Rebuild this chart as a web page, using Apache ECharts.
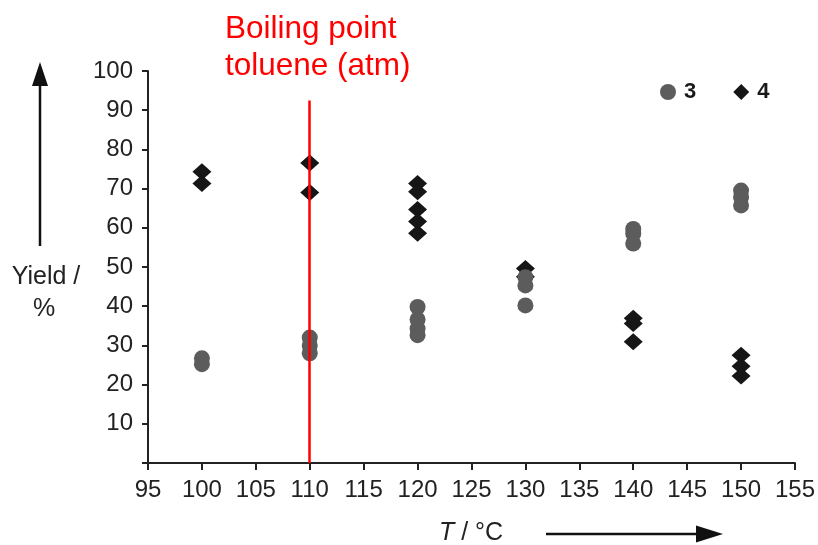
<!DOCTYPE html>
<html>
<head>
<meta charset="utf-8">
<script src="https://cdn.jsdelivr.net/npm/echarts@6/dist/echarts.min.js"></script>
<style>
html,body{margin:0;padding:0;background:#fff;}
#chart{width:818px;height:545px;}
</style>
</head>
<body>
<div id="chart"></div>
<script>
// Data
const temps3  = [100, 100, 110, 110, 110, 120, 120, 120, 120, 130, 130, 130, 140, 140, 140, 150, 150, 150];
const yields3 = [26.7, 25.2, 32.0, 30.0, 28.0, 39.8, 36.6, 34.3, 32.6, 47.4, 45.3, 40.2, 59.7, 58.5, 56.0, 69.5, 67.8, 65.7];
const temps4  = [100, 100, 110, 110, 120, 120, 120, 120, 120, 130, 130, 140, 140, 140, 150, 150, 150];
const yields4 = [74.3, 71.3, 76.5, 69.0, 71.3, 69.2, 64.7, 61.6, 58.6, 49.6, 47.5, 36.9, 35.6, 30.9, 27.5, 24.7, 22.2];
const seriesNames = ['3', '4'];
const boilingPoint = 110;
const boilingLineTop = 92.5;
const xTicks = {min: 95, max: 155, interval: 5};
const yTicks = {min: 0, max: 100, interval: 10};

const font = 'Liberation Sans, Arial, Helvetica, sans-serif';
const chart = echarts.init(document.getElementById('chart'), null, {renderer: 'canvas'});

const option = {
  backgroundColor: '#fff',
  animation: false,
  textStyle: {fontFamily: font},
  grid: {left: 148, right: 20, top: 71, bottom: 82, containLabel: false},
  legend: {
    left: 655, top: 76,
    itemWidth: 16, itemHeight: 16, itemGap: 37,
    data: [{name: seriesNames[0], icon: 'circle'}, {name: seriesNames[1], icon: 'diamond'}],
    textStyle: {fontSize: 22, fontWeight: 'bold', color: '#1a1a1a', fontFamily: font, padding: [0, 0, 0, 3]}
  },
  xAxis: {
    type: 'value', min: xTicks.min, max: xTicks.max, interval: xTicks.interval,
    splitLine: {show: false},
    axisLine: {show: true, onZero: false, lineStyle: {color: '#222', width: 2}},
    axisTick: {show: true, length: 7, lineStyle: {color: '#222', width: 2}},
    axisLabel: {fontSize: 24, color: '#222', margin: 15, fontFamily: font}
  },
  yAxis: {
    type: 'value', min: yTicks.min, max: yTicks.max, interval: yTicks.interval,
    splitLine: {show: false},
    axisLine: {show: true, onZero: false, lineStyle: {color: '#222', width: 2}},
    axisTick: {show: true, length: 6, lineStyle: {color: '#222', width: 2}},
    axisLabel: {fontSize: 24, color: '#222', margin: 15, fontFamily: font,
      formatter: v => v === 0 ? '' : String(v)}
  },
  graphic: [
    {type: 'text', style: {text: 'Boiling point\ntoluene (atm)', x: 225, y: 11, textAlign: 'left', fill: '#ff0000', font: '31.5px ' + font, lineHeight: 37}},
    {type: 'text', style: {text: 'Yield /', x: 46, y: 265, textAlign: 'center', fill: '#222', font: '25px ' + font}},
    {type: 'text', style: {text: '%', x: 44, y: 297, textAlign: 'center', fill: '#222', font: '25px ' + font}},
    {type: 'line', shape: {x1: 40, y1: 246, x2: 40, y2: 80}, style: {stroke: '#111', lineWidth: 2.5}},
    {type: 'polygon', shape: {points: [[40, 62], [32, 86], [48, 86]]}, style: {fill: '#111'}},
    {type: 'text', style: {rich: {i: {fontStyle: 'italic', fontSize: 25, fontFamily: font, fill: '#222'}, n: {fontSize: 25, fontFamily: font, fill: '#222'}}, text: '{i|T}{n| / °C}', x: 439, y: 521}},
    {type: 'line', shape: {x1: 546, y1: 534, x2: 700, y2: 534}, style: {stroke: '#111', lineWidth: 2.5}},
    {type: 'polygon', shape: {points: [[723, 534], [696, 525.5], [696, 542.5]]}, style: {fill: '#111'}}
  ],
  series: [
    {
      name: seriesNames[0], type: 'scatter', z: 3,
      symbol: 'circle', symbolSize: 16,
      itemStyle: {color: '#5c5c5c', opacity: 1},
      data: temps3.map((t, i) => [t, yields3[i]])
    },
    {
      name: seriesNames[1], type: 'scatter', z: 2,
      symbol: 'diamond', symbolSize: [19, 17],
      itemStyle: {color: '#161616', opacity: 1},
      data: temps4.map((t, i) => [t, yields4[i]])
    },
    {
      type: 'scatter', z: 5, data: [], silent: true,
      markLine: {
        silent: true, symbol: ['none', 'none'], animation: false,
        label: {show: false},
        lineStyle: {color: '#ff0000', width: 2.5, type: 'solid'},
        data: [[{coord: [boilingPoint, boilingLineTop]}, {coord: [boilingPoint, 0]}]]
      }
    }
  ]
};
chart.setOption(option);
</script>
</body>
</html>
